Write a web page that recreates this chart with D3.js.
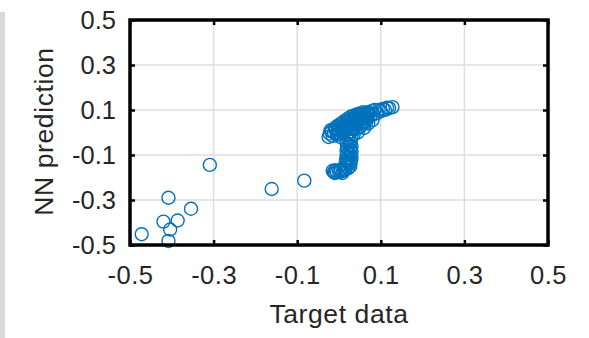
<!DOCTYPE html>
<html>
<head>
<meta charset="utf-8">
<script src="https://cdn.jsdelivr.net/npm/d3@7"></script>
<style>
  html, body { margin: 0; padding: 0; background: #fff; }
  svg { display: block; font-family: "Liberation Sans", Arial, sans-serif; }
</style>
</head>
<body>
<svg id="chart" width="589" height="338"></svg>
<script>
// tick values shared by both axes
const xTicks = [-0.5, -0.3, -0.1, 0.1, 0.3, 0.5];
const yTicks = [-0.5, -0.3, -0.1, 0.1, 0.3, 0.5];

// scattered outliers (target, prediction)
const outlierTarget = [-0.309, -0.161, -0.083, -0.408, -0.354, -0.420, -0.386, -0.404, -0.408, -0.472];
const outlierPred   = [-0.144, -0.251, -0.214, -0.290, -0.339, -0.396, -0.391, -0.431, -0.482, -0.452];

// dense cluster near the origin: upper blob
const blobTarget = [-0.025, -0.022, -0.020, -0.015, -0.012, -0.010, -0.005, -0.003, 0.000, 0.003,
  0.005, 0.008, 0.010, 0.012, 0.015, 0.018, 0.020, 0.022, 0.025, 0.028,
  0.030, 0.032, 0.035, 0.038, 0.040, 0.042, 0.045, 0.048, 0.050, 0.052,
  0.055, 0.058, 0.060, 0.062, 0.065, 0.068, 0.070, 0.075, 0.078, 0.082,
  0.085, 0.090, 0.095, 0.100, 0.105, 0.110, 0.115, 0.120, 0.128,
  0.060, 0.070, 0.080, 0.045, 0.035,
  -0.018, -0.008, 0.000, 0.006, 0.012, 0.016, 0.020, 0.026, 0.030, 0.034,
  0.036, 0.040, 0.044, 0.048, 0.050, 0.054, 0.056, 0.060, 0.064, 0.068,
  0.072, 0.040, 0.050, 0.030, 0.015, 0.025, 0.010, -0.005, 0.000, 0.035,
  0.055, 0.065];
const blobPred = [-0.020, -0.005, 0.010, -0.015, 0.000, 0.020, -0.010, 0.030, 0.010, -0.020,
  0.040, 0.020, 0.000, 0.050, 0.030, -0.010, 0.060, 0.040, 0.015, 0.070,
  0.050, 0.025, 0.075, 0.055, 0.035, 0.080, 0.060, 0.040, 0.085, 0.065,
  0.045, 0.090, 0.070, 0.050, 0.085, 0.065, 0.090, 0.075, 0.095, 0.080,
  0.100, 0.085, 0.100, 0.095, 0.105, 0.100, 0.110, 0.108, 0.113,
  0.020, 0.040, 0.055, 0.000, -0.010,
  0.005, 0.012, -0.005, 0.028, 0.012, 0.045, 0.025, 0.055, 0.035, 0.060,
  0.045, 0.070, 0.050, 0.075, 0.055, 0.080, 0.060, 0.082, 0.070, 0.080,
  0.085, 0.015, 0.025, 0.005, 0.015, 0.000, 0.035, 0.000, 0.025, 0.020,
  0.035, 0.045];

// stem going down and the hook at its foot
const stemTarget = [0.022, 0.028, 0.025, 0.020, 0.027, 0.023, 0.028, 0.022, 0.026, 0.020,
  0.025, 0.018, 0.022, 0.015, 0.010, 0.003, -0.005, -0.012, -0.015, 0.008, -0.008,
  0.030, 0.018, 0.030, 0.018, 0.030, 0.018, 0.030, 0.017, 0.028, 0.015,
  0.027, 0.000, -0.010, 0.012, 0.005];
const stemPred = [-0.030, -0.040, -0.055, -0.065, -0.075, -0.090, -0.100, -0.110, -0.120, -0.130,
  -0.140, -0.150, -0.158, -0.165, -0.170, -0.175, -0.177, -0.175, -0.170, -0.180, -0.168,
  -0.020, -0.045, -0.060, -0.080, -0.085, -0.100, -0.115, -0.120, -0.130, -0.140,
  -0.150, -0.172, -0.180, -0.162, -0.168];

const points = [];
[[outlierTarget, outlierPred], [blobTarget, blobPred], [stemTarget, stemPred]].forEach(([tx, py]) => {
  tx.forEach((t, i) => points.push({ target: t, pred: py[i] }));
});

const svg = d3.select('#chart');
const margin = { left: 130, right: 41, top: 20, bottom: 93 };
const W = 589, H = 338;
const width = W - margin.left - margin.right;
const height = H - margin.top - margin.bottom;
const textColor = '#262626';
const tickFont = 25.5;
const titleFont = 26.5;

// grey strip on the left edge
svg.append('rect').attr('x', 0).attr('y', 12).attr('width', 5).attr('height', H - 12).attr('fill', '#d9d9d9');

const x = d3.scaleLinear().domain([-0.5, 0.5]).range([margin.left, margin.left + width]);
const y = d3.scaleLinear().domain([-0.5, 0.5]).range([margin.top + height, margin.top]);

// grid
svg.append('g')
  .selectAll('line').data(xTicks.slice(1, -1)).join('line')
  .attr('x1', d => x(d)).attr('x2', d => x(d))
  .attr('y1', y(-0.5)).attr('y2', y(0.5))
  .attr('stroke', '#dedede').attr('stroke-width', 1.5);
svg.append('g')
  .selectAll('line').data(yTicks.slice(1, -1)).join('line')
  .attr('x1', x(-0.5)).attr('x2', x(0.5))
  .attr('y1', d => y(d)).attr('y2', d => y(d))
  .attr('stroke', '#dedede').attr('stroke-width', 1.5);

// markers
svg.append('g')
  .selectAll('circle').data(points).join('circle')
  .attr('cx', d => x(d.target))
  .attr('cy', d => y(d.pred))
  .attr('r', 6.5)
  .attr('fill', 'none')
  .attr('stroke', '#0072BD')
  .attr('stroke-width', 1.4);

// inward ticks on all four sides
const tickLen = 5;
const fmt = d => d.toFixed(1);
function ticks(axis, tr) {
  const g = svg.append('g').attr('transform', tr).call(axis);
  g.select('.domain').remove();
  g.selectAll('.tick line').attr('stroke', '#000').attr('stroke-width', 2.5);
  return g;
}
ticks(d3.axisBottom(x).tickValues(xTicks).tickSize(-tickLen).tickFormat(''), `translate(0,${y(-0.5)})`);
ticks(d3.axisTop(x).tickValues(xTicks).tickSize(-tickLen).tickFormat(''), `translate(0,${y(0.5)})`);
ticks(d3.axisLeft(y).tickValues(yTicks).tickSize(-tickLen).tickFormat(''), `translate(${x(-0.5)},0)`);
ticks(d3.axisRight(y).tickValues(yTicks).tickSize(-tickLen).tickFormat(''), `translate(${x(0.5)},0)`);

// tick labels
const xl = svg.append('g').attr('transform', `translate(0,${y(-0.5)})`)
  .call(d3.axisBottom(x).tickValues(xTicks).tickSize(0).tickPadding(21).tickFormat(fmt));
xl.select('.domain').remove();
xl.selectAll('text').attr('font-size', tickFont).attr('font-family', null).attr('fill', textColor)
  .attr('letter-spacing', 0.5);

const yl = svg.append('g').attr('transform', `translate(${x(-0.5)},0)`)
  .call(d3.axisLeft(y).tickValues(yTicks).tickSize(0).tickPadding(14).tickFormat(fmt));
yl.select('.domain').remove();
yl.selectAll('text').attr('font-size', tickFont).attr('font-family', null).attr('fill', textColor);

// box
svg.append('rect')
  .attr('x', x(-0.5)).attr('y', y(0.5))
  .attr('width', width).attr('height', height)
  .attr('fill', 'none').attr('stroke', '#000').attr('stroke-width', 3.5);

// axis titles
svg.append('text')
  .attr('x', x(0)).attr('y', 323)
  .attr('text-anchor', 'middle')
  .attr('font-size', titleFont).attr('letter-spacing', 0.6).attr('fill', textColor)
  .text('Target data');
svg.append('text')
  .attr('transform', `translate(53,${y(0) - 1}) rotate(-90)`)
  .attr('text-anchor', 'middle')
  .attr('font-size', titleFont).attr('letter-spacing', 0.6).attr('fill', textColor)
  .text('NN prediction');
</script>
</body>
</html>
